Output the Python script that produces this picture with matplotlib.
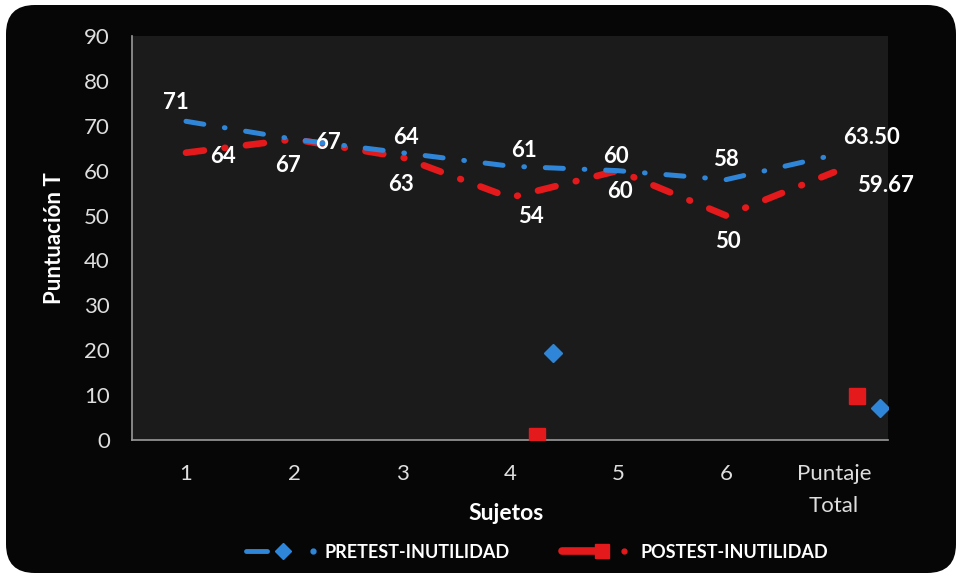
import matplotlib.pyplot as plt
import numpy as np
from matplotlib.lines import Line2D
from matplotlib.patches import FancyBboxPatch
from matplotlib.legend_handler import HandlerBase

plt.rcParams["font.family"] = ["Lato", "DejaVu Sans"]
plt.rcParams["lines.scale_dashes"] = False

# Data
categories = ["1", "2", "3", "4", "5", "6", "Puntaje\nTotal"]
pretest = [71, 67, 64, 61, 60, 58, 63.50]
postest = [64, 67, 63, 54, 60, 50, 59.67]
pre_labels = ["71", "67", "64", "61", "60", "58", "63.50"]
post_labels = ["64", "67", "63", "54", "60", "50", "59.67"]

# stray markers left in the original chart
pre_stray_x = [3.40, 6.43]
pre_stray_y = [19.3, 7.2]
post_stray_x = [3.25, 6.21]
post_stray_y = [0.8, 9.7]

# label offsets (pixels)
pre_off = [(-10, 19), (34, -3), (4, 15), (14, 16), (-2, 14), (0, 20), (37, 17)]
post_off = [(37, -4), (-6, -26), (-1, -27), (21, -19), (2, -21), (2, -26), (51, -13)]

blue = "#2f86d8"
red = "#e3191c"
txt = "#dedede"

fig = plt.figure(figsize=(9.6, 5.77), dpi=100)
fig.patch.set_facecolor("white")
bg = FancyBboxPatch((6 / 960, 4 / 577), 950 / 960, 568 / 577,
                    boxstyle="round,pad=0,rounding_size=0.03",
                    transform=fig.transFigure, facecolor="#060606",
                    edgecolor="none", mutation_aspect=960 / 577, zorder=-5)
fig.patches.append(bg)

ax = fig.add_axes([132 / 960, 1 - 440 / 577, 756 / 960, 404 / 577])
ax.set_facecolor("#1b1b1b")

x = np.arange(len(categories))
dash = (0, (13, 15, 0.5, 15))
ax.plot(x, pretest, color=blue, lw=3.6, linestyle=dash, dash_capstyle="round",
        solid_capstyle="round", zorder=3)
ax.plot(x, postest, color=red, lw=4.8, linestyle=dash, dash_capstyle="round",
        solid_capstyle="round", zorder=2)

ax.plot(pre_stray_x, pre_stray_y, "D", color=blue, ms=9, zorder=4)
ax.plot(post_stray_x, post_stray_y, "s", color=red, ms=11, zorder=4)

for i in range(len(x)):
    ax.annotate(pre_labels[i], (x[i], pretest[i]), xytext=pre_off[i],
                textcoords="offset pixels", ha="center", va="center",
                color="white", fontsize=16, fontweight="bold", zorder=5)
    ax.annotate(post_labels[i], (x[i], postest[i]), xytext=post_off[i],
                textcoords="offset pixels", ha="center", va="center",
                color="white", fontsize=16, fontweight="bold", zorder=5)

ax.set_xlim(-0.5, 6.5)
ax.set_ylim(0, 90)
ax.set_yticks(np.arange(0, 91, 10))
ax.set_xticks(x)
ax.set_xticklabels(categories)
ax.tick_params(axis="both", colors=txt, labelsize=16, length=0)
ax.tick_params(axis="x", pad=17)
ax.tick_params(axis="y", pad=16)
ax.get_xticklabels()[-1].set_linespacing(1.75)
for s in ["top", "right"]:
    ax.spines[s].set_visible(False)
for s in ["left", "bottom"]:
    ax.spines[s].set_color("#9a9a9a")
    ax.spines[s].set_linewidth(1.2)

ax.set_xlabel("Sujetos", color="white", fontsize=16.5, fontweight="bold")
ax.set_ylabel("Puntuación T", color="white", fontsize=16, fontweight="bold")
ax.xaxis.set_label_coords(0.495, -0.155)
ax.yaxis.set_label_coords(-0.089, 0.5)

# handle layout: (line end, marker pos, dot pos) as fractions of handle width
handle_layout = {"D": (0.32, 0.54, 0.99), "s": (0.48, 0.59, 0.91)}


class ChartHandle(HandlerBase):
    def create_artists(self, legend, orig_handle, xdescent, ydescent, width, height, fontsize, trans):
        c = orig_handle.get_color()
        m = orig_handle.get_marker()
        le, mp, dp = handle_layout[m]
        x0 = -xdescent
        y = height / 2 - ydescent
        seg = Line2D([x0, x0 + le * width], [y, y], color=c,
                     lw=orig_handle.get_linewidth(), solid_capstyle="round", transform=trans)
        mk = Line2D([x0 + mp * width], [y], marker=m, color=c,
                    ms=orig_handle.get_markersize(), ls="none", transform=trans)
        dot = Line2D([x0 + dp * width], [y], marker="o", color=c,
                     ms=3.5, ls="none", transform=trans)
        return [seg, mk, dot]


h_pre = Line2D([], [], color=blue, lw=3.5, marker="D", ms=8)
h_post = Line2D([], [], color=red, lw=5.5, marker="s", ms=10)
leg = fig.legend([h_pre, h_post], ["PRETEST-INUTILIDAD", "POSTEST-INUTILIDAD"],
                 handler_map={Line2D: ChartHandle()}, loc="center",
                 bbox_to_anchor=(0.559, 1 - 552 / 577), ncol=2, frameon=False,
                 handlelength=3.8, columnspacing=2.9, handletextpad=0.55,
                 prop={"size": 13, "weight": "bold"})
for t in leg.get_texts():
    t.set_color("white")

fig.savefig("out.png", dpi=100, facecolor=fig.get_facecolor())
